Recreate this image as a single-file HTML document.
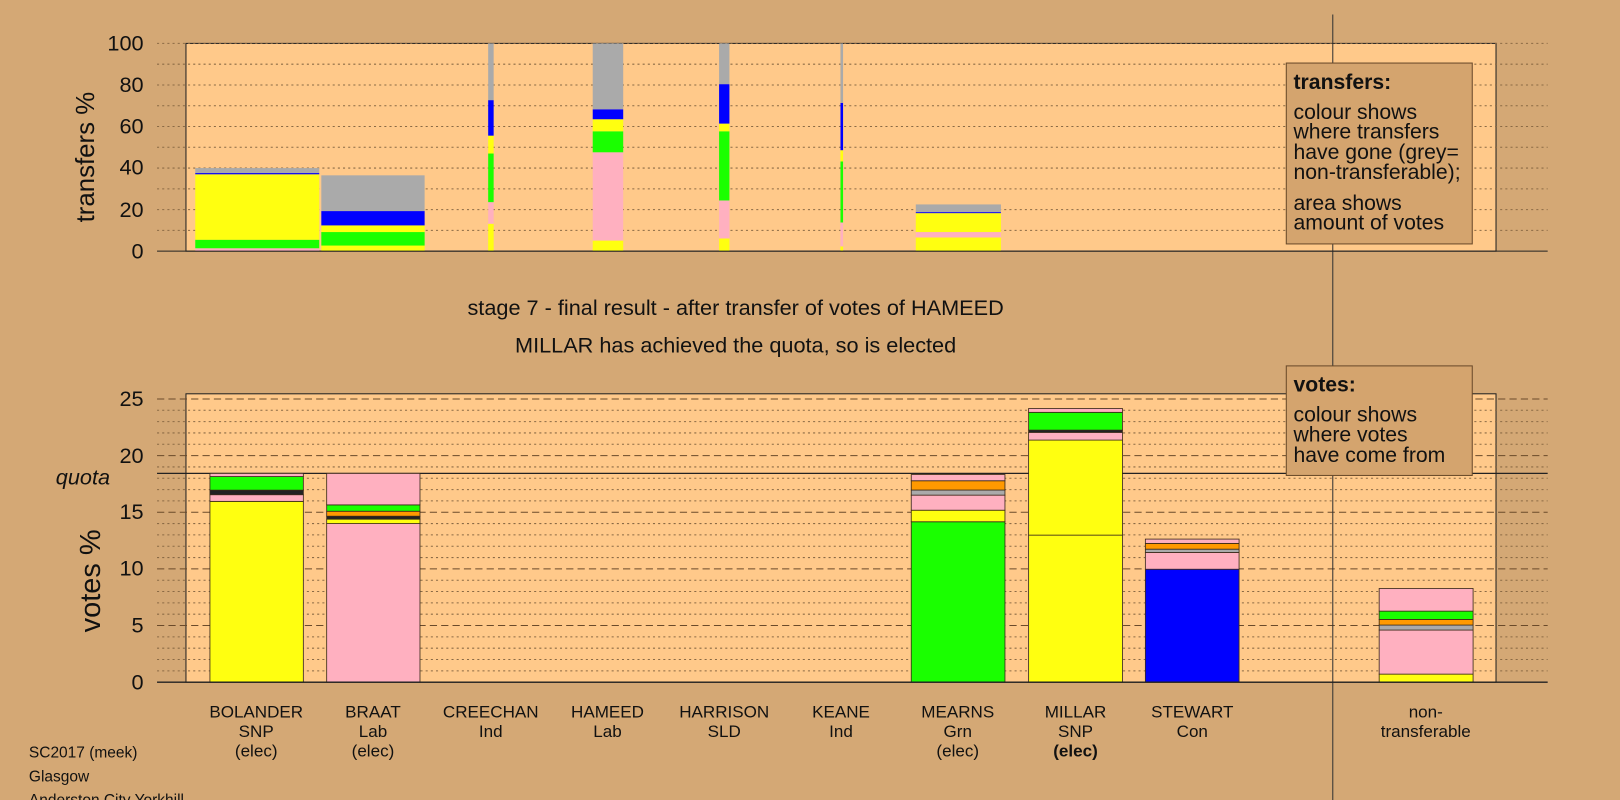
<!DOCTYPE html>
<html><head><meta charset="utf-8"><style>
html,body{margin:0;padding:0;background:#d4a875;}
svg{display:block;font-family:"Liberation Sans",sans-serif;}
</style></head><body>
<svg id="s" width="1620" height="800" viewBox="0 0 1568 774" preserveAspectRatio="none" xmlns="http://www.w3.org/2000/svg">
<rect x="0" y="0" width="1568" height="774" fill="#d4a875"/>
<rect x="180" y="42" width="1268" height="201" fill="#ffc98a" stroke="#222" stroke-width="1"/>
<rect x="180" y="381" width="1268" height="279" fill="#ffc98a" stroke="#222" stroke-width="1"/>
<g id="grid"></g>
<line x1="152" y1="458" x2="1498" y2="458" stroke="#222" stroke-width="1.2"/>
<g id="bars"></g>
<line x1="1290" y1="14" x2="1290" y2="774" stroke="#333" stroke-width="1"/>
<line x1="152" y1="243" x2="1498" y2="243" stroke="#222" stroke-width="1"/>
<line x1="152" y1="660" x2="1498" y2="660" stroke="#222" stroke-width="1.3"/>
<text x="54" y="469" font-size="21" font-style="italic" fill="#111">quota</text>
<g font-size="21" fill="#111" text-anchor="end">
<text x="139" y="250">0</text><text x="139" y="210">20</text><text x="139" y="169">40</text><text x="139" y="129">60</text><text x="139" y="89">80</text><text x="139" y="49">100</text>
<text x="139" y="667">0</text><text x="139" y="612">5</text><text x="139" y="557">10</text><text x="139" y="502">15</text><text x="139" y="448">20</text><text x="139" y="393">25</text>
</g>
<text transform="translate(91,152) rotate(-90)" font-size="25" text-anchor="middle" fill="#111">transfers %</text>
<text transform="translate(97,562) rotate(-90)" font-size="28" text-anchor="middle" fill="#111">votes %</text>
<g font-size="21" fill="#111" text-anchor="middle">
<text x="712" y="305">stage 7 - final result - after transfer of votes of HAMEED</text>
<text x="712" y="341">MILLAR has achieved the quota, so is elected</text>
</g>
<rect x="1245" y="61" width="180" height="175" fill="#d4a46e" stroke="#6a4a2a" stroke-width="1"/>
<g font-size="20.5" fill="#111">
<text x="1252" y="86" font-weight="bold">transfers:</text>
<text x="1252" y="115">colour shows</text>
<text x="1252" y="134">where transfers</text>
<text x="1252" y="154">have gone (grey=</text>
<text x="1252" y="173">non-transferable);</text>
<text x="1252" y="203">area shows</text>
<text x="1252" y="222">amount of votes</text>
</g>
<rect x="1245" y="354" width="180" height="106" fill="#d4a46e" stroke="#6a4a2a" stroke-width="1"/>
<g font-size="20.5" fill="#111">
<text x="1252" y="379" font-weight="bold">votes:</text>
<text x="1252" y="408">colour shows</text>
<text x="1252" y="427">where votes</text>
<text x="1252" y="447">have come from</text>
</g>
<g font-size="16.5" fill="#111" text-anchor="middle" id="xl"></g>
<g font-size="15" fill="#111">
<text x="28" y="733">SC2017 (meek)</text>
<text x="28" y="756">Glasgow</text>
<text x="28" y="779">Anderston City Yorkhill</text>
</g>
</svg>
<script>
(function(){
var NS="http://www.w3.org/2000/svg";
function el(p,t,a,txt){var e=document.createElementNS(NS,t);for(var k in a)e.setAttribute(k,a[k]);if(txt)e.textContent=txt;document.getElementById(p).appendChild(e);return e;}
for(var i=1;i<=10;i++){var y=243-i*20.1;el("grid","line",{x1:152,x2:1498,y1:y,y2:y,stroke:"#8a6a45","stroke-width":1,"stroke-dasharray":"2,3"});}
for(var v=1;v<=25;v++){var y2=660-v*10.96;var d=(v%5==0);el("grid","line",{x1:152,x2:1498,y1:y2,y2:y2,stroke:d?"#6a4a2a":"#8a6a45","stroke-width":1,"stroke-dasharray":d?"7,4":"2,3"});}
var C={y:"#ffff10",g:"#1aff00",p:"#ffb0c0",b:"#0000ff",o:"#ff9900",a:"#aaaaaa",k:"#222222"};
var tb=[
[189,309,[["p",1.4],["g",5.5],["y",37],["b",37.6],["a",40]]],
[311,411,[["y",2.7],["g",9.2],["y",12.4],["b",19.3],["a",36.5]]],
[472.5,477.8,[["y",13.2],["p",23.6],["g",47],["y",55.6],["b",72.7],["a",100]]],
[573.7,603.2,[["y",5.1],["p",47.6],["g",57.7],["y",63.5],["b",68.3],["a",100]]],
[696,706,[["y",6.1],["p",24.4],["g",57.7],["y",61.4],["b",80.4],["a",100]]],
[813.5,816,[["y",2.3],["p",13.8],["g",43.2],["y",48.6],["b",71.4],["a",100]]],
[886.4,968.8,[["y",6.6],["p",9.2],["y",18.3],["b",18.8],["a",22.5]]]];
tb.forEach(function(b){var lo=0;b[2].forEach(function(s){var y1=243-s[1]*2.01,y0=243-lo*2.01;el("bars","rect",{x:b[0],width:b[1]-b[0],y:y1,height:y0-y1,fill:C[s[0]]});lo=s[1];});});
var bb=[
[203.2,293.6,[["y",15.96],["p",16.55],["k",16.95],["g",18.15],["p",18.43]]],
[316.2,406.5,[["p",14.0],["y",14.39],["k",14.65],["o",15.09],["g",15.65],["p",18.43]]],
[882,972.7,[["g",14.16],["y",15.18],["p",16.51],["a",16.96],["o",17.78],["p",18.33]]],
[995.6,1086.4,[["y",12.98],["y",21.37],["p",22.05],["k",22.25],["g",23.82],["p",24.16]]],
[1108.6,1199.3,[["b",9.97],["p",11.45],["a",11.74],["o",12.25],["p",12.63]]],
[1334.9,1425.8,[["y",0.71],["p",4.6],["a",5.04],["o",5.54],["g",6.27],["p",8.27]]]];
bb.forEach(function(b){var lo=0;b[2].forEach(function(s){var y1=660-s[1]*10.96,y0=660-lo*10.96;el("bars","rect",{x:b[0],width:b[1]-b[0],y:y1,height:y0-y1,fill:C[s[0]],stroke:"#3a2a1a","stroke-width":0.8});lo=s[1];});});
var L=[[248,["BOLANDER","SNP","(elec)"]],[361,["BRAAT","Lab","(elec)"]],[475,["CREECHAN","Ind"]],[588,["HAMEED","Lab"]],[701,["HARRISON","SLD"]],[814,["KEANE","Ind"]],[927,["MEARNS","Grn","(elec)"]],[1041,["MILLAR","SNP","(elec)"]],[1154,["STEWART","Con"]],[1380,["non-","transferable"]]];
L.forEach(function(l){l[1].forEach(function(t,i){var a={x:l[0],y:694+i*19};if(l[0]==1041&&i==2)a["font-weight"]="bold";el("xl","text",a,t);});});
})();
</script>
</body></html>
